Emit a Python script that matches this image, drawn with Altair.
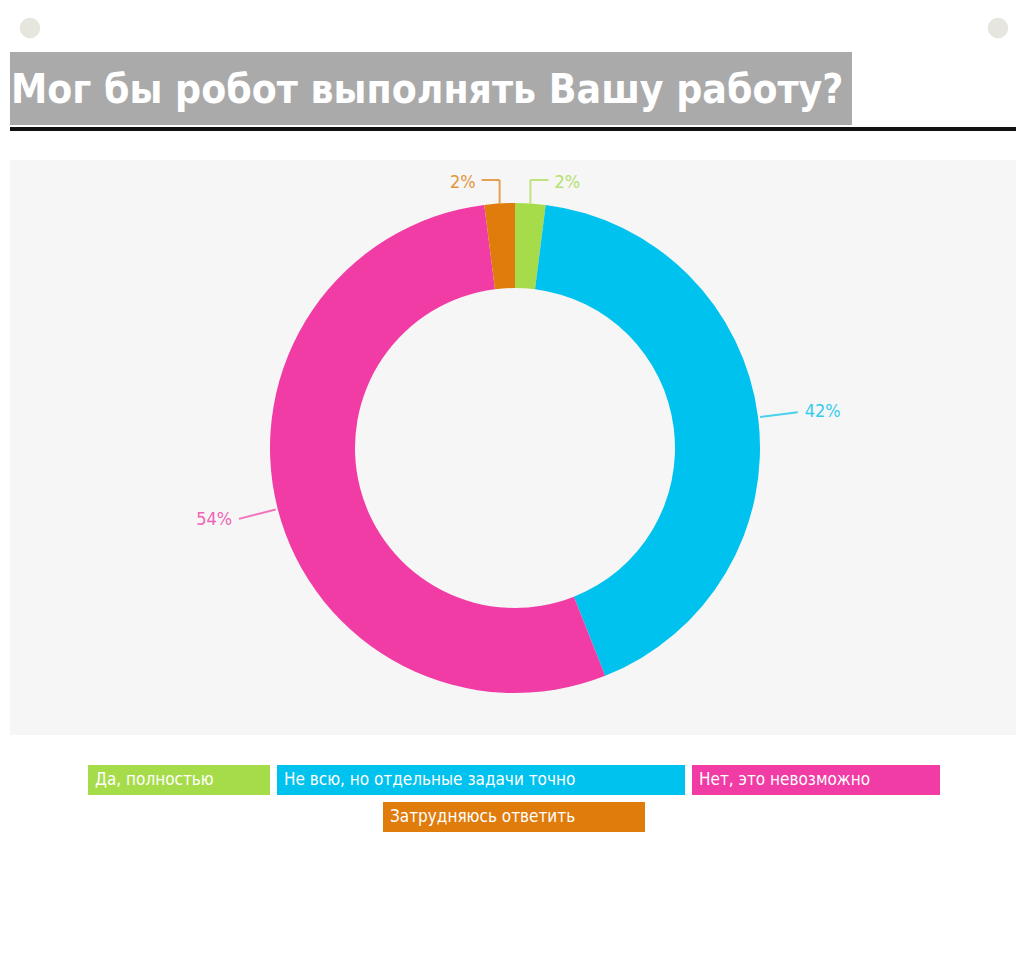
import altair as alt
import pandas as pd
import numpy as np

# ---- data ----
categories = ["Да, полностью", "Не всю, но отдельные задачи точно",
              "Нет, это невозможно", "Затрудняюсь ответить"]
values = [2, 42, 54, 2]
labels = ["2%", "42%", "54%", "2%"]
colors = ["#a6dc4a", "#00c2ee", "#f03ca4", "#e07c0c"]
title_text = "Мог бы робот выполнять Вашу работу?"

# ---- layout (pixels inside the 1008 x 964 view) ----
W, H = 1008, 964
CX, CY = 507, 440
R_OUT, R_IN = 245, 160
COND = "DejaVu Sans Condensed"

color_scale = alt.Scale(domain=categories, range=colors)

df = pd.DataFrame({"cat": categories, "value": values, "label": labels,
                   "order": list(range(len(categories)))})

# label / leader positions derived from the slice angles
total = float(sum(values))
mids = (np.cumsum(values) - np.array(values) / 2.0) / total * 2 * np.pi
lab_rows, seg_rows = [], []
for cat, v, lab, a in zip(categories, values, labels, mids):
    s, c = np.sin(a), np.cos(a)
    if v / total < 0.05:
        side = 1 if s >= 0 else -1
        x0, y0 = CX + R_OUT * s, CY - R_OUT * c
        ye = CY - R_OUT - 23
        xe = x0 + side * 18
        seg_rows.append({"cat": cat, "x": x0, "y": y0, "x2": x0, "y2": ye})
        seg_rows.append({"cat": cat, "x": x0, "y": ye, "x2": xe, "y2": ye})
        lab_rows.append({"cat": cat, "label": lab, "x": xe + side * 6, "y": ye + 3,
                         "side": "L" if side > 0 else "R"})
    else:
        r1, r2 = R_OUT + 2, R_OUT + 40
        seg_rows.append({"cat": cat, "x": CX + r1 * s, "y": CY - r1 * c,
                         "x2": CX + r2 * s, "y2": CY - r2 * c})
        lab_rows.append({"cat": cat, "label": lab, "x": CX + (r2 + 7) * s,
                         "y": CY - (r2 + 3) * c, "side": "L" if s >= 0 else "R"})
seg_df = pd.DataFrame(seg_rows)
lab_df = pd.DataFrame(lab_rows)

# legend boxes (row 1: three boxes, row 2: one box)
leg_layout = [(80, 262, 757, 787), (269, 677, 757, 787),
              (684, 932, 757, 787), (375, 637, 794, 824)]
leg_df = pd.DataFrame({
    "cat": categories,
    "x0": [l[0] for l in leg_layout], "x1": [l[1] for l in leg_layout],
    "y0": [l[2] for l in leg_layout], "y1": [l[3] for l in leg_layout],
})
leg_df["tx"] = leg_df["x0"] + 7
leg_df["ty"] = (leg_df["y0"] + leg_df["y1"]) / 2

X = lambda f: alt.X(f, scale=None, axis=None)
Y = lambda f: alt.Y(f, scale=None, axis=None)

one = pd.DataFrame({"t": [title_text]})

# decorations
dots = alt.Chart(pd.DataFrame({"x": [22, 990], "y": [20, 20]})).mark_point(
    filled=True, size=420, color="#e6e6df", opacity=1).encode(x=X("x:Q"), y=Y("y:Q"))

title_box = alt.Chart(one).mark_rect(color="#aaaaaa").encode(
    x=alt.value(2), x2=alt.value(844), y=alt.value(44), y2=alt.value(117))
title_txt = alt.Chart(one).mark_text(
    align="left", baseline="middle", color="white", fontSize=40.5,
    fontWeight="bold", font=COND).encode(
    x=alt.value(3), y=alt.value(83), text="t:N")
title_rule = alt.Chart(one).mark_rule(color="#111111", strokeWidth=4).encode(
    x=alt.value(2), x2=alt.value(1009), y=alt.value(121))

panel = alt.Chart(one).mark_rect(color="#f6f6f6").encode(
    x=alt.value(2), x2=alt.value(1009), y=alt.value(152), y2=alt.value(727))

# donut
donut = alt.Chart(df).mark_arc(innerRadius=R_IN, outerRadius=R_OUT).encode(
    theta=alt.Theta("value:Q", stack=True),
    color=alt.Color("cat:N", scale=color_scale, legend=None),
    order=alt.Order("order:Q"),
    x=alt.value(CX), y=alt.value(CY))

leaders = alt.Chart(seg_df).mark_rule(strokeWidth=2, opacity=0.7).encode(
    x=X("x:Q"), y=Y("y:Q"), x2="x2:Q", y2="y2:Q",
    color=alt.Color("cat:N", scale=color_scale, legend=None))

def lab_layer(side, align):
    return alt.Chart(lab_df).transform_filter(alt.datum.side == side).mark_text(
        align=align, baseline="middle", fontSize=18, font=COND, opacity=0.8).encode(
        x=X("x:Q"), y=Y("y:Q"), text="label:N",
        color=alt.Color("cat:N", scale=color_scale, legend=None))

# legend
leg_rect = alt.Chart(leg_df).mark_rect().encode(
    x=X("x0:Q"), x2="x1:Q", y=Y("y0:Q"), y2="y1:Q",
    color=alt.Color("cat:N", scale=color_scale, legend=None))
leg_text = alt.Chart(leg_df).mark_text(
    align="left", baseline="middle", color="white", fontSize=17, font=COND).encode(
    x=X("tx:Q"), y=Y("ty:Q"), text="cat:N")

chart = alt.layer(
    dots, title_box, title_txt, title_rule, panel, donut, leaders,
    lab_layer("L", "left"), lab_layer("R", "right"), leg_rect, leg_text
).properties(
    width=W, height=H, padding=0, background="white",
    autosize=alt.AutoSizeParams(type="none")
).configure_view(stroke=None)

chart.save("out.html", embed_options={"renderer": "svg", "actions": False})
